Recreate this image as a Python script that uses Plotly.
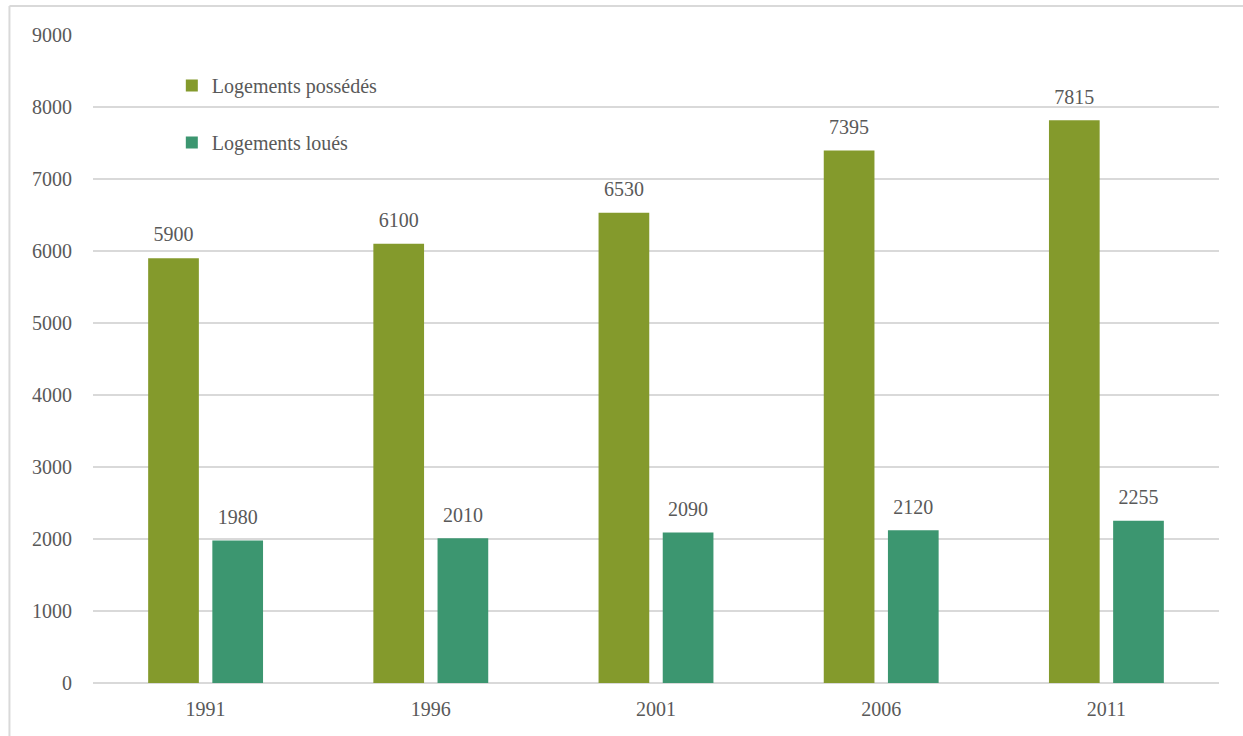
import plotly.graph_objects as go

years = ["1991", "1996", "2001", "2006", "2011"]
owned = [5900, 6100, 6530, 7395, 7815]
rented = [1980, 2010, 2090, 2120, 2255]
y_ticks = [0, 1000, 2000, 3000, 4000, 5000, 6000, 7000, 8000, 9000]

FONT = "Liberation Serif"
TEXT_GREY = "#595959"
GRID = "#d9d9d9"
# value at 20px, followed by an empty line at the 9px base size:
# lifts the labels a little off the bar tops
LABEL = "<span style='font-size:20px'>%{y}</span><br> "

fig = go.Figure()
fig.add_trace(go.Bar(
    name="Logements possédés", x=years, y=owned,
    marker_color="#849a2c", marker_line_width=0,
    texttemplate=LABEL, textposition="outside", cliponaxis=False,
    textfont={"family": FONT, "size": 9, "color": TEXT_GREY},
    legendgroup="a", hoverinfo="skip",
))
fig.add_trace(go.Bar(
    name="Logements loués", x=years, y=rented,
    marker_color="#3c9670", marker_line_width=0,
    texttemplate=LABEL, textposition="outside", cliponaxis=False,
    textfont={"family": FONT, "size": 9, "color": TEXT_GREY},
    legendgroup="b", hoverinfo="skip",
))

fig.update_layout(
    width=1243,
    height=736,
    margin={"l": 93, "r": 24, "t": 35, "b": 53},
    paper_bgcolor="white",
    plot_bgcolor="white",
    font={"family": FONT, "size": 20, "color": TEXT_GREY},
    barmode="group",
    bargap=0.43,
    bargroupgap=0.21,
    uniformtext={"mode": False},
    showlegend=True,
    legend={
        "x": 0.07, "y": 0.952, "xanchor": "left", "yanchor": "top",
        "bgcolor": "rgba(0,0,0,0)", "tracegroupgap": 28,
        "font": {"family": FONT, "size": 20, "color": TEXT_GREY},
    },
    xaxis={
        "showgrid": False, "showline": False, "ticks": "",
        "ticklabelstandoff": 12,
    },
    yaxis={
        "range": [0, 9000], "tickvals": y_ticks,
        "showgrid": True, "gridcolor": GRID, "gridwidth": 1.5,
        "zeroline": True, "zerolinecolor": GRID, "zerolinewidth": 1.5,
        "showline": False, "ticks": "", "ticklabelstandoff": 20,
    },
    shapes=[
        {"type": "line", "xref": "paper", "yref": "paper",
         "x0": -0.0742, "x1": 1.03, "y0": 1.0448, "y1": 1.0448,
         "line": {"color": GRID, "width": 2}},
        {"type": "line", "xref": "paper", "yref": "paper",
         "x0": -0.0742, "x1": -0.0742, "y0": 1.0448, "y1": -0.1,
         "line": {"color": GRID, "width": 2}},
    ],
)

# page has a default 8px body margin; drop it so the figure sits at the window origin
fig.write_html(
    "out.html",
    config={"displayModeBar": False},
    post_script="document.body.style.margin = '0';",
)
